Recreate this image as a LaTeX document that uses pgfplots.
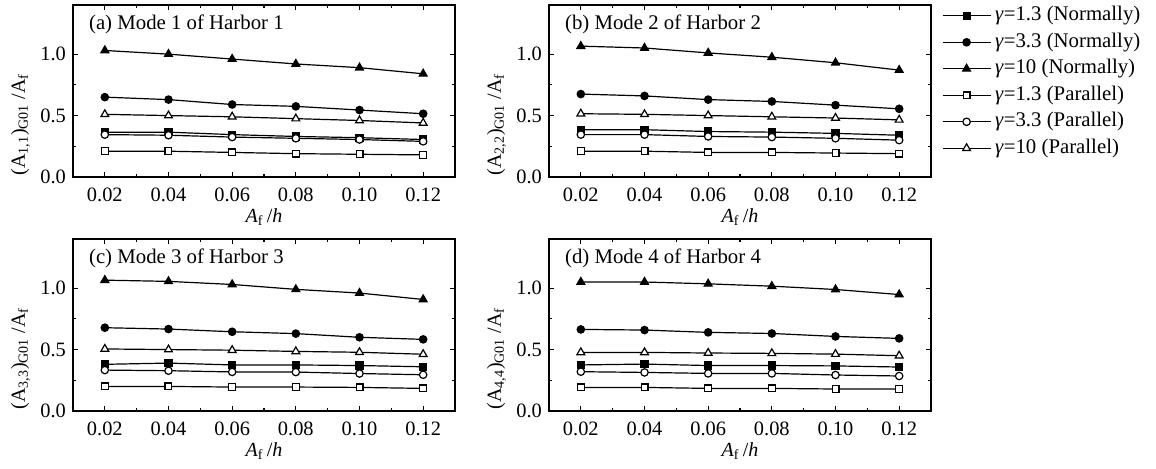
\documentclass[border=0pt]{standalone}
\usepackage{pgfplots}
\pgfplotsset{compat=1.18}
\usepackage{pgfplotstable}
\usepackage{fontspec}
\setmainfont{Liberation Serif}

% Columns: A_f/h, then gamma = 1.3, 3.3, 10 for normally (n) and parallel (p) incidence
\pgfplotstableread{
x     n13    n33    n10    p13    p33    p10
0.02  0.365  0.650  1.030  0.210  0.345  0.510
0.04  0.365  0.630  1.000  0.210  0.340  0.500
0.06  0.345  0.590  0.960  0.200  0.325  0.490
0.08  0.330  0.575  0.920  0.190  0.315  0.475
0.10  0.320  0.545  0.890  0.185  0.305  0.460
0.12  0.305  0.515  0.840  0.180  0.290  0.440
}\harborA
\pgfplotstableread{
x     n13    n33    n10    p13    p33    p10
0.02  0.385  0.675  1.065  0.210  0.345  0.515
0.04  0.385  0.660  1.050  0.210  0.345  0.510
0.06  0.370  0.630  1.010  0.200  0.330  0.500
0.08  0.365  0.615  0.975  0.200  0.325  0.490
0.10  0.355  0.585  0.930  0.195  0.315  0.480
0.12  0.340  0.555  0.870  0.190  0.300  0.465
}\harborB
\pgfplotstableread{
x     n13    n33    n10    p13    p33    p10
0.02  0.380  0.678  1.065  0.200  0.333  0.505
0.04  0.390  0.667  1.055  0.200  0.328  0.500
0.06  0.375  0.645  1.030  0.195  0.318  0.495
0.08  0.375  0.630  0.990  0.195  0.317  0.485
0.10  0.370  0.600  0.960  0.192  0.305  0.478
0.12  0.360  0.583  0.908  0.184  0.295  0.462
}\harborC
\pgfplotstableread{
x     n13    n33    n10    p13    p33    p10
0.02  0.375  0.664  1.050  0.192  0.320  0.477
0.04  0.382  0.659  1.050  0.192  0.314  0.477
0.06  0.370  0.640  1.035  0.184  0.306  0.472
0.08  0.370  0.631  1.016  0.184  0.306  0.469
0.10  0.367  0.607  0.989  0.179  0.293  0.463
0.12  0.358  0.591  0.948  0.179  0.285  0.450
}\harborD

\pgfplotsset{
  panel/.style={
    scale only axis, width=191pt, height=86pt,
    xmin=0.01, xmax=0.13, ymin=0, ymax=1.4,
    xtick={0.02,0.04,0.06,0.08,0.10,0.12},
    ytick={0,0.5,1.0},
    minor x tick num=1, minor y tick num=1,
    tick align=inside,
    major tick length=2.6pt, minor tick length=1.6pt,
    axis line style={line width=0.9pt},
    every tick/.style={line width=0.55pt, black},
    /pgf/number format/assume math mode=true,
    tick label style={font=\fontsize{10.2}{12}\selectfont},
    xticklabel style={yshift=-1.9pt, /pgf/number format/.cd, fixed, fixed zerofill, precision=2},
    yticklabel style={/pgf/number format/.cd, fixed, fixed zerofill, precision=1},
    label style={font=\fontsize{10.4}{12}\selectfont},
    xlabel={\textit{A}\textsubscript{f}\,/\textit{h}},
    every axis x label/.style={at={(axis description cs:0.5,0)}, anchor=base, yshift=-22.8pt},
    every axis y label/.style={at={(axis description cs:-0.1257,0.305)}, anchor=base, rotate=90},
    every axis plot/.append style={black, line width=0.6pt},
  },
  n13/.style={mark=square*, mark size=1.75pt, mark options={solid, fill=black}},
  n33/.style={mark=*, mark size=1.85pt, mark options={solid, fill=black}},
  n10/.style={mark=triangle*, mark size=2.25pt, mark options={solid, fill=black}},
  p13/.style={mark=square*, mark size=1.7pt, mark options={solid, fill=white}},
  p33/.style={mark=*, mark size=1.85pt, mark options={solid, fill=white}},
  p10/.style={mark=triangle*, mark size=2.25pt, mark options={solid, fill=white}},
}
\tikzset{title node/.style={anchor=base west, font=\fontsize{10.4}{12}\selectfont}}

\newcommand\allseries[1]{%
  \addplot[n13] table[x=x,y=n13] {#1};
  \addplot[n33] table[x=x,y=n33] {#1};
  \addplot[n10] table[x=x,y=n10] {#1};
  \addplot[p13] table[x=x,y=p13] {#1};
  \addplot[p33] table[x=x,y=p33] {#1};
  \addplot[p10] table[x=x,y=p10] {#1};
}

\begin{document}
\begin{tikzpicture}
\useasboundingbox (0,0) rectangle (578pt,234pt);

% (a)
\begin{axis}[panel, at={(36.5pt,145.5pt)}, anchor=south west,
  ylabel={(A\textsubscript{1,1})\textsubscript{G01} /A\textsubscript{f}}]
  \allseries{\harborA}
  \node[title node] at (rel axis cs:0.0236,0.86) {(a) Mode 1 of Harbor 1};
\end{axis}

% (b) with the legend
\begin{axis}[panel, at={(274.5pt,145.5pt)}, anchor=south west,
  ylabel={(A\textsubscript{2,2})\textsubscript{G01} /A\textsubscript{f}},
  legend cell align=left,
  legend image code/.code={\draw[mark repeat=2, mark phase=2, #1] plot coordinates {(0pt,0pt) (12pt,0pt) (24pt,0pt)};},
  legend style={draw=none, fill=none, inner sep=0pt, outer sep=0pt,
    at={(rel axis cs:1,1)}, anchor=north west, xshift=5.5pt, yshift=-0.9pt,
    font=\fontsize{10.4}{12}\selectfont,
    nodes={text height=7pt, text depth=2pt, inner ysep=0pt, inner xsep=2pt},
    row sep=4.25pt}]
  \allseries{\harborB}
  \legend{\textit{γ}=1.3 (Normally), \textit{γ}=3.3 (Normally), \textit{γ}=10 (Normally),
          \textit{γ}=1.3 (Parallel), \textit{γ}=3.3 (Parallel), \textit{γ}=10 (Parallel)}
  \node[title node] at (rel axis cs:0.0236,0.86) {(b) Mode 2 of Harbor 2};
\end{axis}

% (c)
\begin{axis}[panel, at={(36.5pt,28.5pt)}, anchor=south west,
  ylabel={(A\textsubscript{3,3})\textsubscript{G01} /A\textsubscript{f}}]
  \allseries{\harborC}
  \node[title node] at (rel axis cs:0.0236,0.86) {(c) Mode 3 of Harbor 3};
\end{axis}

% (d)
\begin{axis}[panel, at={(274.5pt,28.5pt)}, anchor=south west,
  ylabel={(A\textsubscript{4,4})\textsubscript{G01} /A\textsubscript{f}}]
  \allseries{\harborD}
  \node[title node] at (rel axis cs:0.0236,0.86) {(d) Mode 4 of Harbor 4};
\end{axis}
\end{tikzpicture}
\end{document}
